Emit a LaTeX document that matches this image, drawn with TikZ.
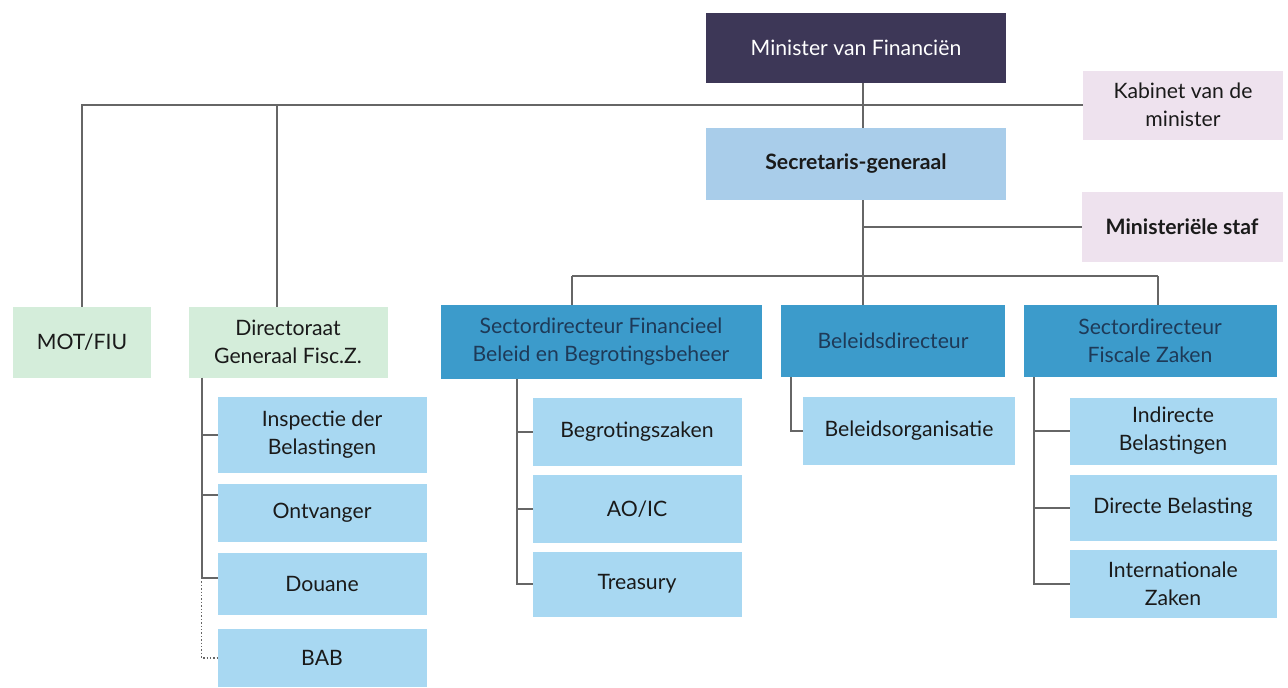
\documentclass[tikz,border=0pt]{standalone}
\usepackage{fontspec}
\setmainfont{Lato}
\definecolor{chiefpurple}{HTML}{3D3757}
\definecolor{staffpink}{HTML}{EEE2EE}
\definecolor{secblue}{HTML}{A9CDEA}
\definecolor{sidegreen}{HTML}{D4EDDA}
\definecolor{sectorblue}{HTML}{3C9BCB}
\definecolor{sectortext}{HTML}{1E3A58}
\definecolor{unitblue}{HTML}{A8D8F2}
\definecolor{textdark}{HTML}{1A1A1A}
\definecolor{linegray}{HTML}{666666}
\tikzset{
  box/.style={rectangle, inner sep=2pt, outer sep=0pt, align=center,
    font=\fontsize{10.6}{14}\selectfont, text=textdark},
  wh/.style 2 args={minimum width=#1*0.5pt, minimum height=#2*0.5pt},
  chief/.style={box, fill=chiefpurple, text=white},
  staff/.style={box, fill=staffpink},
  secgen/.style={box, fill=secblue},
  aside/.style={box, fill=sidegreen},
  sector/.style={box, fill=sectorblue, text=sectortext},
  unit/.style={box, fill=unitblue},
  link/.style={draw=linegray, line width=0.7pt},
}

\begin{document}
\begin{tikzpicture}[x=0.5pt,y=-0.5pt]

  \fill[white] (0,0) rectangle (1288,687);
  \useasboundingbox (0,0) rectangle (1288,687);

  %% top
  \node[chief, wh={300}{70}] (minister) at (856,48) {Minister van Financiën};
  \node[staff, wh={200}{69}] (kabinet) at (1183,105) {Kabinet van de\\minister};
  \node[secgen, wh={300}{72}] (secgen) at (856,164) {\bfseries Secretaris-generaal};
  \node[staff, wh={201}{70}] (staf) at (1182,227) {\bfseries Ministeriële staf};

  %% directors
  \node[aside, wh={138}{71}] (motfiu) at (82,342) {MOT/FIU};
  \node[aside, wh={199}{71}] (dgfz) at (288,342) {Directoraat\\Generaal Fisc.Z.};
  \node[sector, wh={321}{74}] (sfb) at (601,342)
  {Sectordirecteur Financieel\\Beleid en Begrotingsbeheer};
  \node[sector, wh={224}{72}] (beleid) at (893,341) {Beleidsdirecteur};
  \node[sector, wh={253}{72}] (sfz) at (1150,341) {Sectordirecteur\\Fiscale Zaken};

  %% units
  \node[unit, wh={209}{76}] (inspectie) at (322,435) {Inspectie der\\Belastingen};
  \node[unit, wh={209}{58}] (ontvanger) at (322,513) {Ontvanger};
  \node[unit, wh={209}{62}] (douane) at (322,584) {Douane};
  \node[unit, wh={209}{58}] (bab) at (322,658) {BAB};

  \node[unit, wh={209}{68}] (begroting) at (637,432) {Begrotingszaken};
  \node[unit, wh={209}{68}] (aoic) at (637,509) {AO/IC};
  \node[unit, wh={209}{65}] (treasury) at (637,584) {Treasury};

  \node[unit, wh={212}{68}] (beleidsorg) at (909,431) {Beleidsorganisatie};

  \node[unit, wh={207}{67}] (indirecte) at (1173,431) {Indirecte\\Belastingen};
  \node[unit, wh={207}{66}] (directe) at (1173,508) {Directe Belasting};
  \node[unit, wh={207}{68}] (internat) at (1173,584) {Internationale\\Zaken};

  \coordinate (spine) at (863,104);
  \coordinate (dgtap) at (277,104);
  \coordinate (fbtap) at (572,276);
  \coordinate (fztap) at (1158,276);

  %% lines
  \draw[link] (motfiu.north) |- (kabinet.west);
  \draw[link] (dgtap) -- (dgtap |- dgfz.north);
  \draw[link] (spine |- minister.south) -- (spine |- secgen.north);
  \draw[link] (spine |- secgen.south) -- (spine |- fbtap);
  \draw[link] (spine |- staf.west) -- (staf.west);
  \draw[link] (fbtap) -- (fztap);
  \draw[link] (fbtap) -- (fbtap |- sfb.north);
  \draw[link] (spine |- fbtap) -- (spine |- beleid.north);
  \draw[link] (fztap) -- (fztap |- sfz.north);

  \draw[link] ([xshift=-43pt]dgfz.south) |- ([yshift=3pt]douane.west);
  \draw[link] ([xshift=-43pt]dgfz.south |- inspectie.west) -- (inspectie.west);
  \draw[link] ([xshift=-43pt]dgfz.south |- ontvanger.north) ++(0,11) -- ++(16,0);
  \draw[link, densely dotted] ([yshift=3pt]douane.west) ++(-16,0) |- (bab.west);

  \draw[link] ([xshift=-42pt]sfb.south) |- (treasury.west);
  \foreach \u in {begroting,aoic}
    \draw[link] ([xshift=-42pt]sfb.south |- \u.west) -- (\u.west);

  \draw[link] ([xshift=-51pt]beleid.south) |- (beleidsorg.west);

  \draw[link] ([xshift=-58pt]sfz.south) |- (internat.west);
  \foreach \u in {indirecte,directe}
    \draw[link] ([xshift=-58pt]sfz.south |- \u.west) -- (\u.west);

\end{tikzpicture}
\end{document}
